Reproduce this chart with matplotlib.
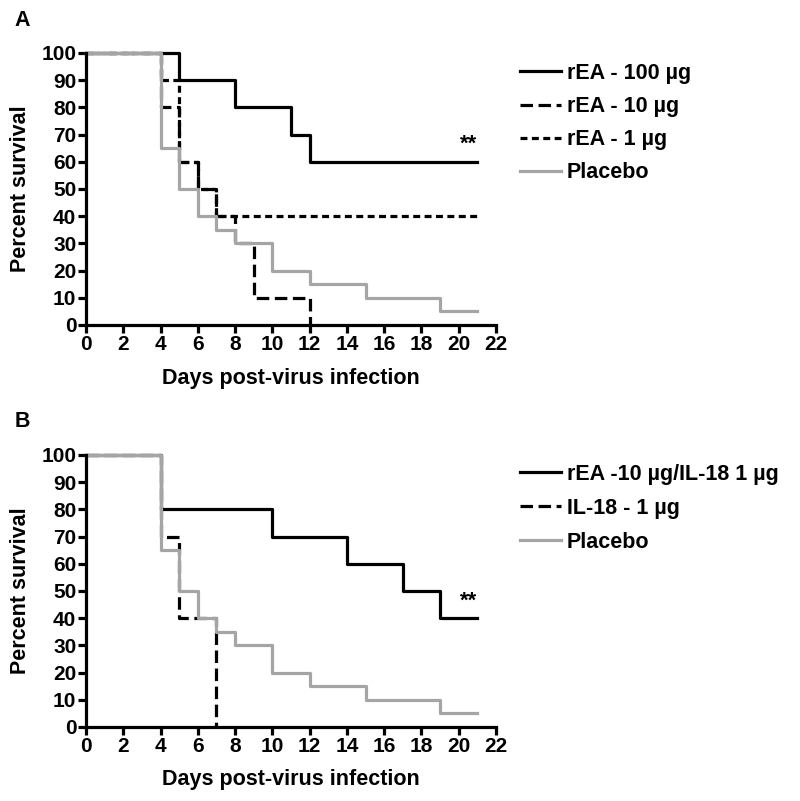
import matplotlib
matplotlib.use("Agg")
import matplotlib.pyplot as plt

plt.rcParams['font.family'] = ['Liberation Sans', 'DejaVu Sans']
plt.rcParams['font.weight'] = 'bold'
plt.rcParams['lines.scale_dashes'] = False

# ---- Data (Kaplan-Meier step curves: times of change, survival after change) ----
# Panel A
a_100_t = [0, 5, 8, 11, 12, 21]
a_100_s = [100, 90, 80, 70, 60, 60]
a_10_t = [0, 4, 5, 6, 7, 8, 9, 12]
a_10_s = [100, 80, 60, 50, 40, 30, 10, 0]
a_1_t = [0, 4, 5, 6, 7, 21]
a_1_s = [100, 90, 60, 50, 40, 40]
placebo_t = [0, 4, 5, 6, 7, 8, 10, 12, 15, 19, 21]
placebo_s = [100, 65, 50, 40, 35, 30, 20, 15, 10, 5, 5]
# Panel B
b_combo_t = [0, 4, 10, 14, 17, 19, 21]
b_combo_s = [100, 80, 70, 60, 50, 40, 40]
b_il18_t = [0, 4, 5, 7]
b_il18_s = [100, 70, 40, 0]

labels_a = ["rEA - 100 \u00b5g", "rEA - 10 \u00b5g", "rEA - 1 \u00b5g", "Placebo"]
labels_b = ["rEA -10 \u00b5g/IL-18 1 \u00b5g", "IL-18 - 1 \u00b5g", "Placebo"]
xticks = list(range(0, 23, 2))
yticks = list(range(0, 101, 10))

W, H = 800, 801
fig = plt.figure(figsize=(W / 100, H / 100), dpi=100)

GRAY = '#a5a5a5'
LW = 2.3
DASH = (0, (9, 4))
DOT = (0, (5, 3.2))
TICKFS = 15
LABFS = 15.5
LEGFS = 15.5


def px_axes(left, top, right, bottom):
    return fig.add_axes([left / W, 1 - bottom / H, (right - left) / W, (bottom - top) / H])


def style(ax, top, bottom):
    ax.set_xlim(0, 22)
    ax.set_ylim(0, 100)
    ax.set_xticks(xticks)
    ax.set_yticks(yticks)
    for s in ['top', 'right']:
        ax.spines[s].set_visible(False)
    for s in ['left', 'bottom']:
        ax.spines[s].set_linewidth(2.3)
    ax.tick_params(direction='out', length=6, width=2.3, labelsize=TICKFS, pad=1)
    for lab in ax.get_xticklabels() + ax.get_yticklabels():
        lab.set_fontweight('bold')
    fig.text(20.5 / W, 1 - ((top + bottom) / 2) / H, 'Percent survival', fontsize=LABFS,
             fontweight='bold', rotation=90, ha='center', va='center')
    fig.text(291 / W, 1 - (bottom + 53) / H, 'Days post-virus infection', fontsize=LABFS,
             fontweight='bold', ha='center', va='center')


def legend(handles, labels, top, spacing):
    fig.legend(handles=handles, labels=labels, loc='upper left',
               bbox_to_anchor=(520 / W, 1 - top / H), frameon=False,
               prop={'size': LEGFS, 'weight': 'bold'}, handlelength=1.9,
               handletextpad=0.28, labelspacing=spacing, borderaxespad=0, borderpad=0)


# Panel A
axA = px_axes(86, 53, 496, 325)
l1, = axA.step(a_100_t, a_100_s, where='post', color='black', lw=LW, label=labels_a[0])
l2, = axA.step(a_10_t, a_10_s, where='post', color='black', lw=LW, linestyle=DASH, label=labels_a[1])
l3, = axA.step(a_1_t, a_1_s, where='post', color='black', lw=LW, linestyle=DOT, label=labels_a[2])
l4, = axA.step(placebo_t, placebo_s, where='post', color=GRAY, lw=LW, label=labels_a[3])
for l in (l1, l2, l3, l4):
    l.set_clip_on(False)
style(axA, 53, 325)
axA.text(21, 62.5, '**', fontsize=16, fontweight='bold', ha='right', va='bottom')
legend([l1, l2, l3, l4], labels_a, 63, 0.56)
fig.text(22 / W, 1 - 21 / H, 'A', fontsize=15.5, fontweight='bold', ha='center', va='center')

# Panel B
axB = px_axes(86, 455, 496, 727)
m1, = axB.step(b_combo_t, b_combo_s, where='post', color='black', lw=LW, label=labels_b[0])
m2, = axB.step(b_il18_t, b_il18_s, where='post', color='black', lw=LW, linestyle=DASH, label=labels_b[1])
m3, = axB.step(placebo_t, placebo_s, where='post', color=GRAY, lw=LW, label=labels_b[2])
for l in (m1, m2, m3):
    l.set_clip_on(False)
style(axB, 455, 727)
axB.text(21, 42.5, '**', fontsize=16, fontweight='bold', ha='right', va='bottom')
legend([m1, m2, m3], labels_b, 464, 0.6)
fig.text(22 / W, 1 - 422 / H, 'B', fontsize=15.5, fontweight='bold', ha='center', va='center')

fig.savefig('out.png', dpi=100, facecolor='white')
